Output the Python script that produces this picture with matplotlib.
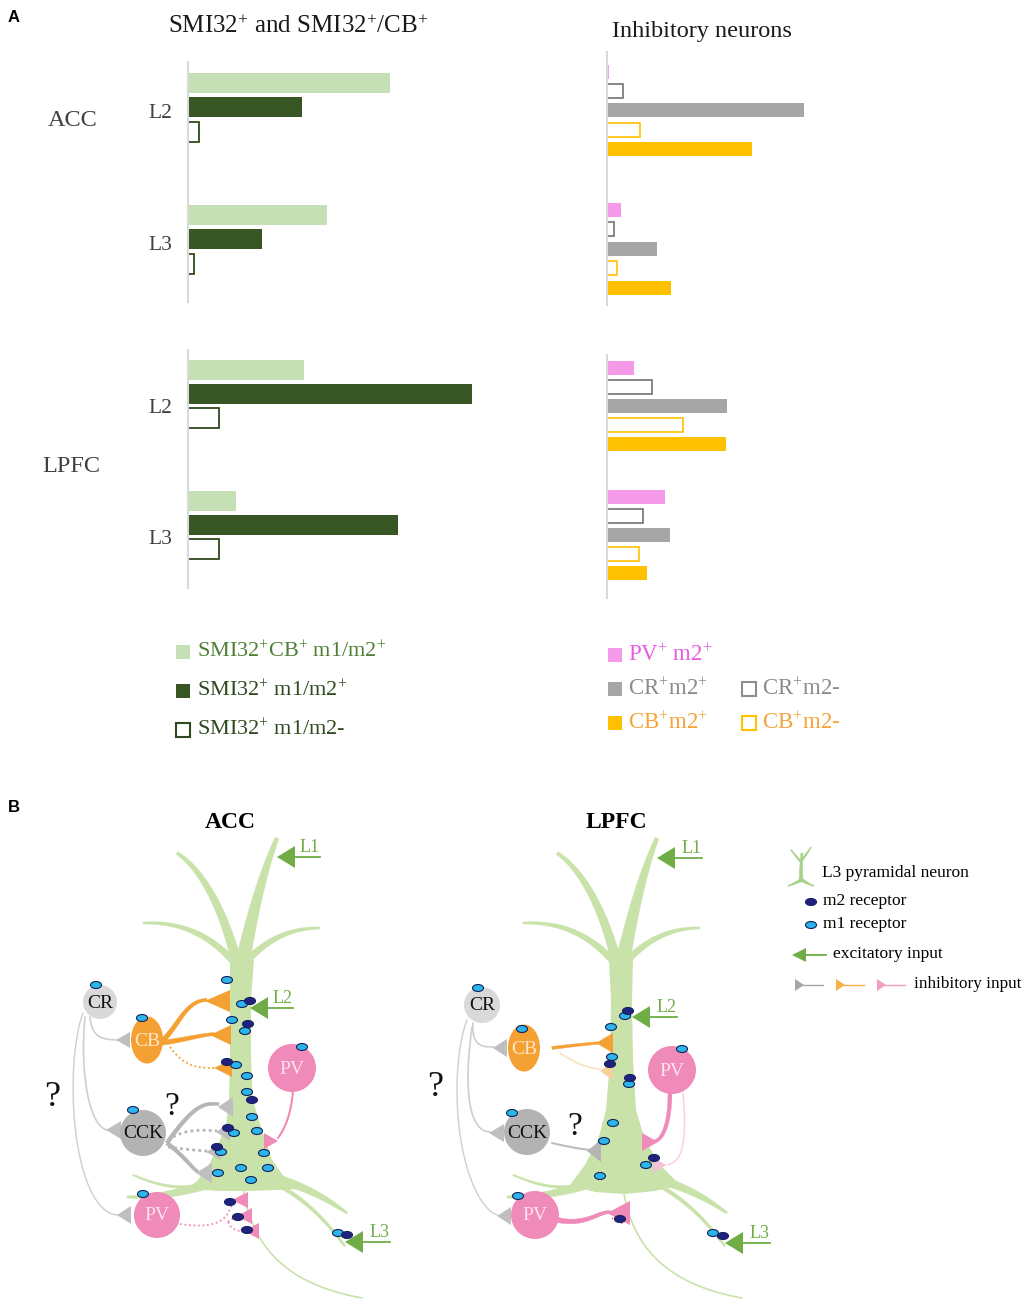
import numpy as np
import matplotlib
matplotlib.use('Agg')
import matplotlib.pyplot as plt
from matplotlib.patches import Ellipse, Circle, Polygon, Rectangle

plt.rcParams['font.family'] = ['Liberation Serif', 'DejaVu Serif']
plt.rcParams['mathtext.fontset'] = 'custom'
plt.rcParams['mathtext.rm'] = 'Liberation Serif'
plt.rcParams['mathtext.it'] = 'Liberation Serif:italic'
plt.rcParams['mathtext.bf'] = 'Liberation Serif:bold'

# ---- data (bar lengths, arbitrary units) ----
areas = ['ACC', 'LPFC']
layers = ['L2', 'L3']

# SMI32 panel (longest bar = 100)
smi_cb_pos = {'ACC': [71, 49], 'LPFC': [41, 17]}     # SMI32+CB+ m1/m2+
smi_pos = {'ACC': [40, 26], 'LPFC': [100, 74]}       # SMI32+ m1/m2+
smi_neg = {'ACC': [4, 2], 'LPFC': [11, 11]}          # SMI32+ m1/m2-

# inhibitory neurons panel
pv_pos = {'ACC': [1, 7], 'LPFC': [13.5, 29]}
cr_neg = {'ACC': [8, 3.5], 'LPFC': [22.5, 18]}
cr_pos = {'ACC': [98.5, 25], 'LPFC': [60, 31.5]}
cb_neg = {'ACC': [16.5, 5], 'LPFC': [38, 16]}
cb_pos = {'ACC': [72.5, 32], 'LPFC': [59.5, 20]}

# colours
LIGHT = '#c5e0b4'
DARK = '#375623'
PINK_BAR = '#f59ae8'
GRAY_BAR = '#a6a6a6'
GOLD = '#ffc000'
GREEN = '#70ad47'
CELL_GREEN = '#c8e2aa'
ORANGE = '#f5a033'
PINK = '#f08ab8'
M1 = '#2bb5e8'
M2 = '#1f237f'

W, H = 1022, 1300
fig = plt.figure(figsize=(W / 100, H / 100), dpi=100)
ov = fig.add_axes([0, 0, 1, 1])
ov.set_xlim(0, W)
ov.set_ylim(H, 0)
ov.axis('off')


def px_axes(x0, y0, x1, y1):
    ax = fig.add_axes([x0 / W, 1 - y1 / H, (x1 - x0) / W, (y1 - y0) / H])
    ax.set_facecolor('none')
    for s in ['top', 'right', 'bottom']:
        ax.spines[s].set_visible(False)
    ax.spines['left'].set_color('#d9d9d9')
    ax.spines['left'].set_linewidth(1.5)
    ax.set_ylim(y1, y0)
    ax.set_xticks([])
    ax.tick_params(length=0)
    return ax


# ---- panel A, left: SMI32 ----
SMI_SCALE = 2.84   # px per unit
# box, first bar centre, bar step, group gap, label offset
smi_layout = {'ACC': ((188, 62, 520, 302), 83, 24.3, 132, 28),
              'LPFC': ((188, 350, 520, 588), 370.5, 24, 131, 36)}
for area in areas:
    box, start, step, gap, lab = smi_layout[area]
    ax = px_axes(*box)
    ax.set_xlim(0, (box[2] - box[0]) / SMI_SCALE)
    series = [(smi_cb_pos[area], dict(color=LIGHT)),
              (smi_pos[area], dict(color=DARK)),
              (smi_neg[area], dict(facecolor='white', edgecolor='#2e4a1e', linewidth=1.3))]
    for i, (vals, style) in enumerate(series):
        ys = [start + g * gap + i * step for g in range(len(layers))]
        ax.barh(ys, vals, height=20, **style)
    ax.set_yticks([start + g * gap + lab for g in range(len(layers))], layers,
                  fontsize=15.5, color='#404040')
    ax.tick_params(axis='y', pad=11)

# ---- panel A, right: inhibitory ----
INH_SCALE = 2.0
inh_layout = {'ACC': ((607, 52, 900, 305), 71.5, 19.4, 138.5),
              'LPFC': ((607, 355, 900, 598), 368.5, 19, 128.5)}
for area in areas:
    box, start, step, gap = inh_layout[area]
    ax = px_axes(*box)
    ax.set_yticks([])
    ax.set_xlim(0, (box[2] - box[0]) / INH_SCALE)
    series = [(pv_pos[area], dict(color=PINK_BAR)),
              (cr_neg[area], dict(facecolor='white', edgecolor='#737373', linewidth=1.2)),
              (cr_pos[area], dict(color=GRAY_BAR)),
              (cb_neg[area], dict(facecolor='white', edgecolor=GOLD, linewidth=1.2)),
              (cb_pos[area], dict(color=GOLD))]
    for i, (vals, style) in enumerate(series):
        ys = [start + g * gap + i * step for g in range(len(layers))]
        ax.barh(ys, vals, height=14, **style)

# panel A texts
ov.text(8, 18, 'A', fontsize=12, fontweight='bold', family='Liberation Sans', va='center')
ov.text(298, 27, r'SMI32$^{+}$ and SMI32$^{+}$/CB$^{+}$', fontsize=18, ha='center', va='center', color='#1a1a1a')
ov.text(702, 32, 'Inhibitory neurons', fontsize=17.5, ha='center', va='center', color='#1a1a1a')
ov.text(73, 120, 'ACC', fontsize=17.5, ha='center', va='center', color='#404040')
ov.text(71, 466, 'LPFC', fontsize=17.5, ha='center', va='center', color='#404040')

# panel A legends
leg_left = [(LIGHT, None, r'SMI32$^{+}$CB$^{+}$ m1/m2$^{+}$', '#4f7f35', 652),
            (DARK, None, r'SMI32$^{+}$ m1/m2$^{+}$', '#2e4a1e', 691),
            ('white', '#2e4a1e', r'SMI32$^{+}$ m1/m2-', '#2e4a1e', 730)]
for fc, ec, txt, tc, y in leg_left:
    ov.add_patch(Rectangle((176, y - 7), 14, 14, fc=fc, ec=ec if ec else 'none', lw=1.5))
    ov.text(197, y, txt, fontsize=16, va='center', color=tc)

leg_right = [(608, PINK_BAR, None, r'PV$^{+}$ m2$^{+}$', '#e55ce0', 655),
             (608, GRAY_BAR, None, r'CR$^{+}$m2$^{+}$', '#8c8c8c', 689),
             (742, 'white', '#8c8c8c', r'CR$^{+}$m2-', '#8c8c8c', 689),
             (608, GOLD, None, r'CB$^{+}$m2$^{+}$', '#f4a43a', 723),
             (742, 'white', GOLD, r'CB$^{+}$m2-', '#f4a43a', 723)]
for x, fc, ec, txt, tc, y in leg_right:
    ov.add_patch(Rectangle((x, y - 7), 14, 14, fc=fc, ec=ec if ec else 'none', lw=1.5))
    ov.text(x + 20, y, txt, fontsize=16.5, va='center', color=tc)


# ---- panel B: schematic ----
def bez(pts, n=40):
    p = np.asarray(pts, float)
    t = np.linspace(0, 1, n)
    out = []
    for tt in t:
        q = p.copy()
        while len(q) > 1:
            q = (1 - tt) * q[:-1] + tt * q[1:]
        out.append(q[0])
    return np.array(out), t


def taper(pts, w0, w1, color, z=1):
    c, t = bez(pts)
    d = np.gradient(c, axis=0)
    nrm = np.column_stack([-d[:, 1], d[:, 0]])
    nrm /= np.linalg.norm(nrm, axis=1)[:, None]
    w = (w0 + (w1 - w0) * t) / 2
    poly = np.vstack([c + nrm * w[:, None], (c - nrm * w[:, None])[::-1]])
    ov.add_patch(Polygon(poly, closed=True, fc=color, ec=color, lw=0.3, zorder=z))


def curve(pts, color, lw, ls='-', z=2):
    c, _ = bez(pts)
    ov.plot(c[:, 0], c[:, 1], color=color, lw=lw, ls=ls, zorder=z, solid_capstyle='round')


def terminal(apex, base_x, half, color, z=3):
    x, y = apex
    ov.add_patch(Polygon([(x, y), (base_x, y - half), (base_x, y + half)],
                         closed=True, fc=color, ec='none', zorder=z))


def receptor(x, y, kind):
    ov.add_patch(Ellipse((x, y), 11, 7, fc=M1 if kind == 'm1' else M2,
                         ec='#15205e', lw=0.8, zorder=6))


def cell(x, y, name, fc, tc, w, h=None):
    if h is None:
        ov.add_patch(Circle((x, y), w, fc=fc, ec='none', zorder=4))
    else:
        ov.add_patch(Ellipse((x, y), w, h, fc=fc, ec='none', zorder=4))
    ov.text(x, y + 1, name, fontsize=14, ha='center', va='center', color=tc, zorder=5)


def exc_arrow(tip, end_x, label):
    x, y = tip
    ov.add_patch(Polygon([(x, y), (x + 18, y - 11), (x + 18, y + 11)], fc=GREEN, ec='none', zorder=7))
    ov.plot([x + 16, end_x], [y, y], color=GREEN, lw=1.3, zorder=7)
    ov.text(end_x, y - 1, label, ha='right', va='bottom', color=GREEN, fontsize=13, zorder=7)


def pyramid(dx, soma):
    g = CELL_GREEN
    taper([(240 + dx, 975), (252 + dx, 915), (262 + dx, 875), (277 + dx, 838)], 15, 4, g)
    taper([(236 + dx, 960), (222 + dx, 905), (200 + dx, 868), (177 + dx, 853)], 10, 3, g)
    taper([(234 + dx, 962), (205 + dx, 930), (175 + dx, 922), (143 + dx, 923)], 7, 2, g)
    taper([(246 + dx, 962), (270 + dx, 936), (295 + dx, 928), (320 + dx, 928)], 7, 2, g)
    ov.add_patch(Polygon([(x + dx, y) for x, y in soma], closed=True, fc=g, ec='none', zorder=1))
    taper([(205 + dx, 1185), (170 + dx, 1196), (148 + dx, 1197), (127 + dx, 1197)], 9, 2, g)
    taper([(200 + dx, 1186), (170 + dx, 1190), (150 + dx, 1182), (133 + dx, 1175)], 3, 1.5, g)
    taper([(280 + dx, 1180), (315 + dx, 1190), (335 + dx, 1205), (347 + dx, 1213)], 9, 2, g)
    taper([(275 + dx, 1183), (315 + dx, 1205), (332 + dx, 1230), (345 + dx, 1246)], 4, 2, g)
    curve([(243 + dx, 1188), (252 + dx, 1250), (290 + dx, 1285), (362 + dx, 1298)], '#c8e2aa', 1.2, z=1)


acc_soma = [(230, 960), (230, 1000), (230, 1060), (229, 1100), (226, 1125), (218, 1145),
            (210, 1163), (198, 1180), (188, 1189), (220, 1191), (250, 1191), (275, 1190),
            (300, 1189), (285, 1178), (272, 1160), (262, 1130), (253, 1100), (251, 1060),
            (251, 1000), (254, 960)]
lpfc_soma = [(229, 960), (231, 1000), (230, 1060), (226, 1110), (218, 1140), (205, 1165),
             (190, 1185), (215, 1192), (245, 1194), (275, 1191), (300, 1185),
             (280, 1165), (265, 1140), (256, 1110), (253, 1060), (252, 1000), (253, 960)]
pyramid(0, acc_soma)
pyramid(380, lpfc_soma)

LG = '#cfcfcf'
GT = '#bfbfbf'
# ACC connections
curve([(90, 1017), (92, 1040), (105, 1039), (117, 1040)], LG, 1.2)
terminal((116, 1040), 130, 8, GT)
curve([(85, 1017), (80, 1070), (88, 1125), (107, 1130)], LG, 1.2)
terminal((106, 1130), 121, 9, GT)
curve([(83, 1013), (65, 1060), (68, 1190), (100, 1215), (118, 1215)], LG, 1.0)
terminal((117, 1215), 131, 9, GT)
taper([(160, 1043), (178, 1028), (185, 1000), (207, 1000)], 5, 3, ORANGE, z=2)
terminal((205, 1001), 230, 11, ORANGE)
taper([(160, 1043), (185, 1040), (195, 1036), (214, 1034)], 5, 3, ORANGE, z=2)
terminal((210, 1035), 231, 10, ORANGE)
curve([(170, 1047), (185, 1068), (200, 1068), (214, 1068)], ORANGE, 1.3, ls=(0, (1, 1.5)))
terminal((214, 1068), 232, 9, ORANGE)
taper([(167, 1143), (195, 1103), (205, 1103), (219, 1104)], 4, 3, '#b5b5b5', z=2)
terminal((218, 1107), 233, 10, GT)
curve([(168, 1140), (185, 1128), (205, 1130), (217, 1131)], '#b5b5b5', 2, ls=(0, (1, 1.2)))
terminal((216, 1132), 230, 9, GT)
curve([(168, 1147), (190, 1150), (207, 1151)], '#b5b5b5', 2, ls=(0, (1, 1.2)))
terminal((206, 1152), 221, 8, GT)
taper([(167, 1143), (185, 1157), (192, 1168), (198, 1172)], 4, 3, '#b5b5b5', z=2)
terminal((196, 1173), 212, 10, GT)
curve([(293, 1090), (291, 1120), (278, 1138)], PINK, 1.5)
terminal((278, 1141), 264, 8, PINK)
curve([(180, 1224), (213, 1229), (228, 1222), (232, 1203)], PINK, 1.3, ls=(0, (1, 1.5)))
curve([(228, 1222), (232, 1218), (240, 1216)], PINK, 1.3, ls=(0, (1, 1.5)))
curve([(228, 1222), (232, 1232), (245, 1231)], PINK, 1.3, ls=(0, (1, 1.5)))
terminal((232, 1200), 248, 8, PINK)
terminal((237, 1216), 252, 8, PINK)
terminal((244, 1231), 259, 8, PINK)

# LPFC connections
curve([(473, 1023), (471, 1048), (485, 1047), (494, 1047)], LG, 1.2)
terminal((493, 1048), 507, 9, GT)
curve([(472, 1027), (462, 1100), (472, 1132), (490, 1132)], LG, 1.2)
terminal((489, 1133), 504, 9, GT)
curve([(467, 1020), (448, 1070), (452, 1190), (490, 1215), (498, 1215)], LG, 1.0)
terminal((497, 1216), 511, 9, GT)
taper([(552, 1048), (575, 1045), (598, 1043)], 3, 2.5, ORANGE, z=2)
terminal((596, 1043), 613, 10, ORANGE)
curve([(560, 1053), (582, 1068), (600, 1069)], '#f9dcb8', 1.0)
terminal((600, 1071), 613, 9, '#f9cf98')
curve([(552, 1143), (573, 1148), (590, 1150)], '#bdbdbd', 1.5)
terminal((587, 1151), 601, 11, '#b5b5b5')
taper([(670, 1092), (670, 1125), (662, 1140), (655, 1141)], 4, 3, PINK, z=2)
terminal((658, 1142), 642, 9, PINK)
curve([(683, 1093), (688, 1150), (680, 1162), (667, 1165)], '#f7cfe0', 1.0)
terminal((666, 1165), 653, 8, '#f6c0d8')
taper([(558, 1220), (585, 1226), (598, 1212), (610, 1212)], 5, 3, PINK, z=2)
terminal((607, 1213), 630, 12, PINK)
curve([(612, 1218), (618, 1222), (624, 1224)], '#e8507a', 1.0, ls=(0, (1, 1.5)))

# cells
for dx_cells in [
    [(100, 1002, 'CR', '#d9d9d9', '#111111', 17, None),
     (147, 1040, 'CB', ORANGE, '#fde8c8', 32, 47),
     (292, 1068, 'PV', PINK, '#fde3ee', 24, None),
     (143, 1133, 'CCK', '#b3b3b3', '#111111', 23, None),
     (157, 1215, 'PV', PINK, '#fde3ee', 23, None)],
    [(482, 1005, 'CR', '#d9d9d9', '#111111', 18, None),
     (524, 1048, 'CB', ORANGE, '#fde8c8', 32, 47),
     (672, 1070, 'PV', PINK, '#fde3ee', 24, None),
     (527, 1132, 'CCK', '#b3b3b3', '#111111', 23, None),
     (535, 1215, 'PV', PINK, '#fde3ee', 24, None)]]:
    for x, y, name, fc, tc, w, h in dx_cells:
        cell(x, y, name, fc, tc, w, h)

# receptors
acc_m1 = [(227, 980), (242, 1004), (232, 1020), (245, 1031), (236, 1065), (247, 1076),
          (247, 1092), (252, 1117), (234, 1133), (257, 1131), (264, 1153), (221, 1152),
          (218, 1173), (241, 1168), (268, 1168), (251, 1180), (338, 1233),
          (96, 985), (142, 1018), (302, 1047), (133, 1110), (143, 1194)]
acc_m2 = [(250, 1001), (248, 1024), (227, 1062), (252, 1100), (228, 1128), (217, 1147),
          (230, 1202), (238, 1217), (247, 1230), (347, 1235)]
lpfc_m1 = [(625, 1016), (611, 1027), (612, 1057), (629, 1084), (613, 1123), (604, 1141),
           (646, 1165), (600, 1176), (713, 1233),
           (478, 988), (522, 1029), (682, 1049), (512, 1113), (518, 1196)]
lpfc_m2 = [(628, 1011), (610, 1064), (630, 1078), (654, 1158), (620, 1219), (723, 1236)]
for pts, kind in [(acc_m1, 'm1'), (acc_m2, 'm2'), (lpfc_m1, 'm1'), (lpfc_m2, 'm2')]:
    for x, y in pts:
        receptor(x, y, kind)

# excitatory inputs
exc_arrow((277, 857), 320, 'L1')
exc_arrow((250, 1008), 293, 'L2')
exc_arrow((345, 1242), 390, 'L3')
exc_arrow((657, 858), 702, 'L1')
exc_arrow((632, 1017), 677, 'L2')
exc_arrow((725, 1243), 770, 'L3')

# question marks and titles
for x, y, fs in [(52, 1097, 26), (172, 1107, 24), (435, 1088, 26), (575, 1127, 24)]:
    ov.text(x, y, '?', fontsize=fs, ha='center', va='center', color='#111111', zorder=7)
ov.text(8, 808, 'B', fontsize=12, fontweight='bold', family='Liberation Sans', va='center')
ov.text(230, 823, 'ACC', fontsize=17, fontweight='bold', ha='center', va='center')
ov.text(616, 823, 'LPFC', fontsize=17, fontweight='bold', ha='center', va='center')

# panel B legend
taper([(801, 882), (801, 868), (802, 853)], 4, 2, '#a9d18e')
taper([(801, 862), (795, 855), (791, 850)], 2, 1, '#a9d18e')
taper([(802, 860), (808, 852), (811, 847)], 2, 1, '#a9d18e')
taper([(801, 880), (794, 884), (788, 886)], 3, 1, '#a9d18e')
taper([(802, 880), (808, 884), (814, 886)], 3, 1, '#a9d18e')
ov.text(822, 873, 'L3 pyramidal neuron', fontsize=12.5, va='center')
receptor(811, 902, 'm2')
ov.text(823, 901, 'm2 receptor', fontsize=12.5, va='center')
receptor(811, 925, 'm1')
ov.text(823, 924, 'm1 receptor', fontsize=12.5, va='center')
ov.add_patch(Polygon([(792, 955), (806, 948), (806, 962)], fc=GREEN, ec='none'))
ov.plot([804, 826], [955, 955], color=GREEN, lw=1.3)
ov.text(833, 954, 'excitatory input', fontsize=12.5, va='center')
for x0, col in [(795, '#a6a6a6'), (836, '#f8b04a'), (877, '#f59ac0')]:
    ov.add_patch(Polygon([(x0 + 9, 985), (x0, 979), (x0, 991)], fc=col, ec='none'))
    ov.plot([x0 + 8, x0 + 28], [985, 985], color=col, lw=1.0)
ov.text(914, 984, 'inhibitory input', fontsize=12.3, va='center')

fig.savefig('out.png', dpi=100)
